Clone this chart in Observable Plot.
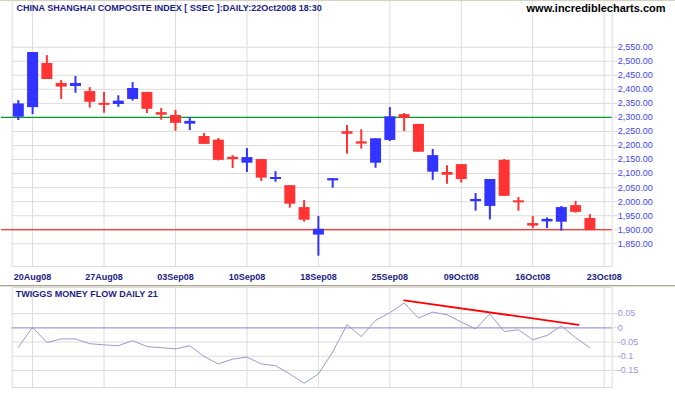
<!DOCTYPE html>
<html><head><meta charset="utf-8">
<script src="https://cdn.jsdelivr.net/npm/d3@7"></script>
<script src="https://cdn.jsdelivr.net/npm/@observablehq/plot@0.6"></script>
<style>
body{margin:0;background:#fff;}
#wrap{position:relative;width:675px;height:395px;overflow:hidden;background:#fff;}
#wrap svg{display:block;}
#sep{height:1px;border-top:1px solid #aaa58e;background:#e4e0d2;}
#topline{position:absolute;left:0;top:0;width:675px;height:1px;background:#d6d2c2;}
</style>
</head><body>
<div id="wrap"><div id="top"></div><div id="sep"></div><div id="bot"></div><div id="topline"></div></div>
<script>
// ---- data ----
const title = "CHINA SHANGHAI COMPOSITE INDEX [ SSEC ]:DAILY:22Oct2008 18:30";
const site = "www.incrediblecharts.com";
const indTitle = "TWIGGS MONEY FLOW DAILY 21";

const dates = ["19Aug08","20Aug08","21Aug08","22Aug08","25Aug08","26Aug08","27Aug08","28Aug08","29Aug08",
  "01Sep08","02Sep08","03Sep08","04Sep08","05Sep08","08Sep08","09Sep08","10Sep08","11Sep08","12Sep08",
  "16Sep08","17Sep08","18Sep08","19Sep08","22Sep08","23Sep08","24Sep08","25Sep08","26Sep08",
  "06Oct08","07Oct08","08Oct08","09Oct08","10Oct08","13Oct08","14Oct08","15Oct08","16Oct08","17Oct08",
  "20Oct08","21Oct08","22Oct08"];
const open  = [2301,2335,2492,2421,2410,2392,2350,2346,2364,2389,2317,2307,2276,2232,2219,2158,2137,2150,2079,2057,1979,1881,2074,2249,2213,2137,2218,2310,2275,2105,2104,2132,2000,1983,2147,2003,1922,1928,1927,1986,1940];
const high  = [2360,2531,2520,2431,2446,2406,2389,2377,2424,2389,2332,2325,2300,2243,2225,2164,2189,2150,2107,2057,2004,1947,2082,2271,2256,2224,2335,2314,2275,2186,2128,2132,2029,2079,2150,2015,1947,1942,1983,2001,1954];
const low   = [2289,2310,2435,2364,2386,2333,2315,2336,2358,2314,2290,2251,2253,2204,2145,2118,2104,2072,2069,1977,1927,1806,2048,2169,2187,2119,2214,2250,2176,2076,2062,2066,1966,1935,2019,1966,1904,1904,1895,1959,1897];
const close = [2348,2531,2435,2408,2421,2354,2343,2358,2403,2329,2308,2279,2286,2204,2147,2150,2157,2084,2086,1991,1934,1902,2082,2240,2205,2224,2302,2297,2176,2164,2094,2079,2008,2079,2019,1996,1913,1937,1979,1962,1897];
const moneyFlow = [-0.068,0.002,-0.052,-0.039,-0.039,-0.056,-0.060,-0.063,-0.045,-0.066,-0.070,-0.074,-0.063,-0.101,-0.127,-0.110,-0.103,-0.127,-0.133,-0.162,-0.195,-0.162,-0.085,0.011,-0.031,0.026,0.053,0.087,0.034,0.055,0.046,0.020,-0.004,0.049,-0.013,-0.007,-0.042,-0.027,0.007,-0.035,-0.070];
const trendX = [27, 39.2];
const trendV = [0.096, 0.0106];
const resistance = 2300;
const support = 1900;
const xTickLabels = ["20Aug08","27Aug08","03Sep08","10Sep08","18Sep08","25Sep08","09Oct08","16Oct08","23Oct08"];
const yTicks = [2550,2500,2450,2400,2350,2300,2250,2200,2150,2100,2050,2000,1950,1900,1850];
const mfTicks = [0.05,0,-0.05,-0.1,-0.15];

// ---- build ----
const xTickIdx = xTickLabels.map(l => { const k = dates.indexOf(l); return k < 0 ? dates.length : k; });
const candles = dates.map((d, i) => ({i, date: d, open: open[i], high: high[i], low: low[i], close: close[i]}));
const up = candles.filter(d => d.close >= d.open);
const down = candles.filter(d => d.close < d.open);
const mf = moneyFlow.map((v, i) => ({i, v}));
const trend = trendX.map((x, k) => ({i: x, v: trendV[k]}));

const BLUE = "#3333ff", RED = "#ff3333", GRID = "#dcdcdc", NAVY = "#1c1c84";
const FONT = "'Liberation Sans', Arial, sans-serif";
const xDomain = [-0.427, 41.56];
const pxPerDay = 600 / (xDomain[1] - xDomain[0]);

const main = Plot.plot({
  width: 675, height: 285,
  marginLeft: 11.7, marginRight: 63.3, marginTop: 0, marginBottom: 19,
  style: {fontFamily: FONT, background: "#fff", overflow: "visible"},
  x: {domain: xDomain, axis: null, label: null},
  y: {domain: [1769.2, 2716.3], axis: null, label: null},
  marks: [
    Plot.gridY(yTicks, {stroke: GRID, strokeOpacity: 1}),
    Plot.gridX(xTickIdx, {stroke: GRID, strokeOpacity: 1}),
    Plot.frame({stroke: GRID}),
    Plot.axisY(yTicks, {anchor: "right", tickSize: 5.3, tickPadding: 0.3, stroke: GRID, fill: "#4545f2",
      fontSize: 9, textAnchor: "start", tickFormat: d3.format(",.2f"), label: null}),
    Plot.axisX(xTickIdx, {anchor: "bottom", tickSize: 0, tickPadding: 7.2, fill: NAVY, fontSize: 9,
      fontWeight: "bold", tickFormat: d => xTickLabels[xTickIdx.indexOf(d)], label: null}),
    Plot.ruleY([resistance], {x1: xDomain[0] - 10.7 / pxPerDay, x2: xDomain[1], stroke: "#009a33", strokeWidth: 1.2}),
    Plot.ruleY([support], {x1: xDomain[0] - 10.7 / pxPerDay, x2: xDomain[1], stroke: "#ff0000", strokeWidth: 1.2}),
    Plot.ruleX(up, {x: "i", y1: "low", y2: "high", stroke: BLUE, strokeWidth: 2}),
    Plot.ruleX(up, {x: "i", y1: "open", y2: "close", stroke: BLUE, strokeWidth: 11}),
    Plot.ruleX(down, {x: "i", y1: "low", y2: "high", stroke: RED, strokeWidth: 2}),
    Plot.ruleX(down, {x: "i", y1: "open", y2: "close", stroke: RED, strokeWidth: 11}),
    Plot.text([title], {frameAnchor: "top-left", dx: 4.3, dy: 10, lineAnchor: "bottom", textAnchor: "start",
      fontSize: 9, fontWeight: "bold", fill: NAVY}),
    Plot.text([site], {frameAnchor: "top-right", dx: 53.3, dy: 11.7, lineAnchor: "bottom", textAnchor: "end",
      fontSize: 11, fontWeight: "bold", fill: "#000"})
  ]
});
document.getElementById("top").appendChild(main);

const lower = Plot.plot({
  width: 675, height: 108,
  marginLeft: 11.7, marginRight: 63.3, marginTop: 0, marginBottom: 8,
  style: {fontFamily: FONT, background: "#fff", overflow: "visible"},
  x: {domain: xDomain, axis: null, label: null},
  y: {domain: [-0.2098, 0.1416], axis: null, label: null},
  marks: [
    Plot.gridY(mfTicks.filter(d => d !== 0), {stroke: GRID, strokeOpacity: 1}),
    Plot.gridX(xTickIdx, {stroke: GRID, strokeOpacity: 1}),
    Plot.frame({stroke: GRID}),
    Plot.axisY(mfTicks, {anchor: "right", tickSize: 5.3, tickPadding: 0.3, stroke: GRID, fill: "#9696dc",
      fontSize: 9, textAnchor: "start", tickFormat: d => String(d), label: null}),
    Plot.ruleY([0], {stroke: "#9c9ccf", strokeWidth: 1.2}),
    Plot.line(mf, {x: "i", y: "v", stroke: "#9a9acc", strokeWidth: 1}),
    Plot.line(trend, {x: "i", y: "v", stroke: "#ff0000", strokeWidth: 1.8}),
    Plot.text([indTitle], {frameAnchor: "top-left", dx: 3.6, dy: 9.6, lineAnchor: "bottom", textAnchor: "start",
      fontSize: 9, fontWeight: "bold", fill: NAVY})
  ]
});
document.getElementById("bot").appendChild(lower);
</script>
</body></html>
